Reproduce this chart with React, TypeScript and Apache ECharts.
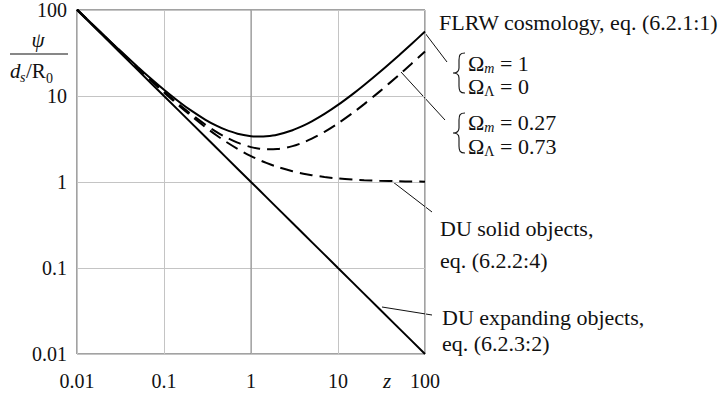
import React, { useEffect, useRef } from "react";
import * as echarts from "echarts";

// redshift values (x)
const zValues = [0.01, 0.02, 0.03, 0.05, 0.07, 0.1, 0.15, 0.2, 0.3, 0.4, 0.5, 0.7, 1, 1.25, 1.5, 2, 3, 4, 5, 7, 10, 15, 20, 30, 50, 70, 100];
// FLRW, Ωm = 1, ΩΛ = 0 (solid)
const flrwMatter = [101.75, 51.77, 35.1, 21.78, 16.08, 11.82, 8.519, 6.886, 5.287, 4.521, 4.087, 3.648, 3.414, 3.375, 3.401, 3.549, 4.0, 4.523, 5.07, 6.188, 7.874, 10.667, 13.431, 18.894, 29.652, 40.28, 56.08];
// FLRW, Ωm = 0.27, ΩΛ = 0.73 (dashed)
const flrwLambda = [101.2, 51.21, 34.54, 21.22, 15.51, 11.23, 7.917, 6.266, 4.631, 3.831, 3.366, 2.865, 2.546, 2.438, 2.397, 2.415, 2.614, 2.889, 3.193, 3.83, 4.806, 6.433, 8.048, 11.241, 17.524, 23.727, 32.94];
// DU solid objects (dashed)
const duSolid = [101, 51, 34.33, 21, 15.29, 11, 7.667, 6, 4.333, 3.5, 3, 2.429, 2, 1.8, 1.667, 1.5, 1.333, 1.25, 1.2, 1.143, 1.1, 1.067, 1.05, 1.033, 1.02, 1.014, 1.01];
// DU expanding objects (solid)
const duExpanding = [100, 50, 33.33, 20, 14.29, 10, 6.667, 5, 3.333, 2.5, 2, 1.429, 1, 0.8, 0.667, 0.5, 0.333, 0.25, 0.2, 0.143, 0.1, 0.0667, 0.05, 0.0333, 0.02, 0.0143, 0.01];
// tick labels
const tickLabels = ["0.01", "0.1", "1", "10", "100"];
// darker reference gridline at z = 1
const refLineX = [1, 1];
const refLineY = [0.01, 100];

const FONT = "Liberation Serif";
const INK = "#111";
const ANN = 22;
const fontStr = (size: number, italic = false) => `${italic ? "italic " : ""}${size}px '${FONT}', serif`;

const braceD = "M12 0 C7 0 6 2 6 7 L6 15 C6 18 4 20 0 20 C4 20 6 22 6 25 L6 33 C6 38 7 40 12 40";
try {
  echarts.graphic.registerShape("brace", echarts.graphic.extendPath(braceD, {}));
} catch (e) {}

const pairs = (ys: number[]) => zValues.map((x, i) => [x, ys[i]]);
const fmt = (v: number) => {
  const s = tickLabels.find((t) => Math.abs(parseFloat(t) - v) / v < 1e-6);
  return s ?? "";
};

const richOmega = {
  a: { font: fontStr(ANN), fontFamily: FONT, fontSize: ANN, lineHeight: 24, fill: INK },
  s: { font: fontStr(14, true), fontFamily: FONT, fontSize: 14, fontStyle: "italic", lineHeight: 13, fill: INK, verticalAlign: "bottom" },
  u: { font: fontStr(14), fontFamily: FONT, fontSize: 14, lineHeight: 13, fill: INK, verticalAlign: "bottom" },
};

const txt = (x: number, y: number, text: string, size = ANN, italic = false, align = "left") => ({
  type: "text",
  x,
  y,
  style: {
    text,
    font: fontStr(size, italic),
    fontFamily: FONT,
    fontSize: size,
    fontStyle: italic ? "italic" : "normal",
    fill: INK,
    align,
    verticalAlign: "middle",
  },
});

const omega = (x: number, y: number, text: string) => ({
  type: "text",
  x,
  y,
  style: { text, rich: richOmega, font: fontStr(ANN), fontFamily: FONT, fontSize: ANN, fill: INK, verticalAlign: "middle" },
});

const leader = (x1: number, y1: number, x2: number, y2: number) => ({
  type: "line",
  shape: { x1, y1, x2, y2 },
  style: { stroke: INK, lineWidth: 1 },
});

export default function App() {
  const ref = useRef<HTMLDivElement>(null);
  useEffect(() => {
    if (!ref.current) return;
    const chart = echarts.init(ref.current, undefined, { renderer: "svg" });
    const dashed = [13, 7];
    chart.setOption({
      animation: false,
      backgroundColor: "#fff",
      grid: { left: 77, top: 10, width: 348, height: 344, show: true, borderColor: "#444", borderWidth: 1, backgroundColor: "transparent" },
      xAxis: {
        type: "log",
        logBase: 10,
        min: 0.01,
        max: 100,
        axisLine: { show: false },
        axisTick: { show: false },
        splitLine: { show: true, lineStyle: { color: "#c4c4c4", width: 1 } },
        axisLabel: { formatter: fmt, fontFamily: FONT, fontSize: 20, color: INK, margin: 17 },
      },
      yAxis: {
        type: "log",
        logBase: 10,
        min: 0.01,
        max: 100,
        axisLine: { show: false },
        axisTick: { show: false },
        splitLine: { show: true, lineStyle: { color: "#c4c4c4", width: 1 } },
        axisLabel: { formatter: fmt, fontFamily: FONT, fontSize: 20, color: INK, margin: 10, padding: [6, 0, 0, 0] },
      },
      series: [
        {
          type: "line",
          data: refLineX.map((x, i) => [x, refLineY[i]]),
          symbol: "none",
          z: 1,
          lineStyle: { color: "#8a8a8a", width: 1 },
          silent: true,
        },
        {
          type: "line",
          name: "DU expanding",
          data: pairs(duExpanding),
          symbol: "none",
          z: 3,
          lineStyle: { color: "#000", width: 2 },
        },
        {
          type: "line",
          name: "DU solid",
          data: pairs(duSolid),
          symbol: "none",
          smooth: 0.3,
          z: 3,
          lineStyle: { color: "#000", width: 2, type: dashed },
        },
        {
          type: "line",
          name: "FLRW Ωm=1",
          data: pairs(flrwMatter),
          symbol: "none",
          smooth: 0.3,
          z: 3,
          lineStyle: { color: "#000", width: 2 },
        },
        {
          type: "line",
          name: "FLRW Ωm=0.27",
          data: pairs(flrwLambda),
          symbol: "none",
          smooth: 0.3,
          z: 3,
          lineStyle: { color: "#000", width: 2, type: dashed },
        },
      ],
      graphic: {
        elements: [
          // y-axis label: psi / (d_s / R_0)
          txt(38, 40, "ψ", 21, true, "center"),
          { type: "line", shape: { x1: 10, y1: 54, x2: 68, y2: 54 }, style: { stroke: INK, lineWidth: 1.2 } },
          txt(10, 71, "d", 21, true),
          txt(20, 77, "s", 14, true),
          txt(26, 71, "/R", 21),
          txt(46, 78, "0", 14),
          // x-axis label
          txt(387, 381, "z", 21, true, "center"),
          // annotations
          txt(439, 22, "FLRW cosmology, eq. (6.2.1:1)"),
          txt(440, 228, "DU solid objects,"),
          txt(440, 260, "eq. (6.2.2:4)"),
          txt(442, 317, "DU expanding objects,"),
          txt(442, 343, "eq. (6.2.3:2)"),
          omega(468, 63, "{a|Ω}{s|m}{a| = 1}"),
          omega(468, 86, "{a|Ω}{u|Λ}{a| = 0}"),
          omega(468, 122, "{a|Ω}{s|m}{a| = 0.27}"),
          omega(468, 146, "{a|Ω}{u|Λ}{a| = 0.73}"),
          leader(425, 33, 447, 62),
          leader(401, 72, 445, 120),
          leader(393, 182, 432, 212),
          leader(382, 307, 432, 315),
          { type: "brace", x: 453, y: 53, style: { stroke: INK, fill: "none", lineWidth: 1.1 } },
          { type: "brace", x: 453, y: 113, style: { stroke: INK, fill: "none", lineWidth: 1.1 } },
        ],
      },
    });
    return () => chart.dispose();
  }, []);
  return <div ref={ref} style={{ width: 728, height: 395, position: "absolute", left: 0, top: 0 }} />;
}
